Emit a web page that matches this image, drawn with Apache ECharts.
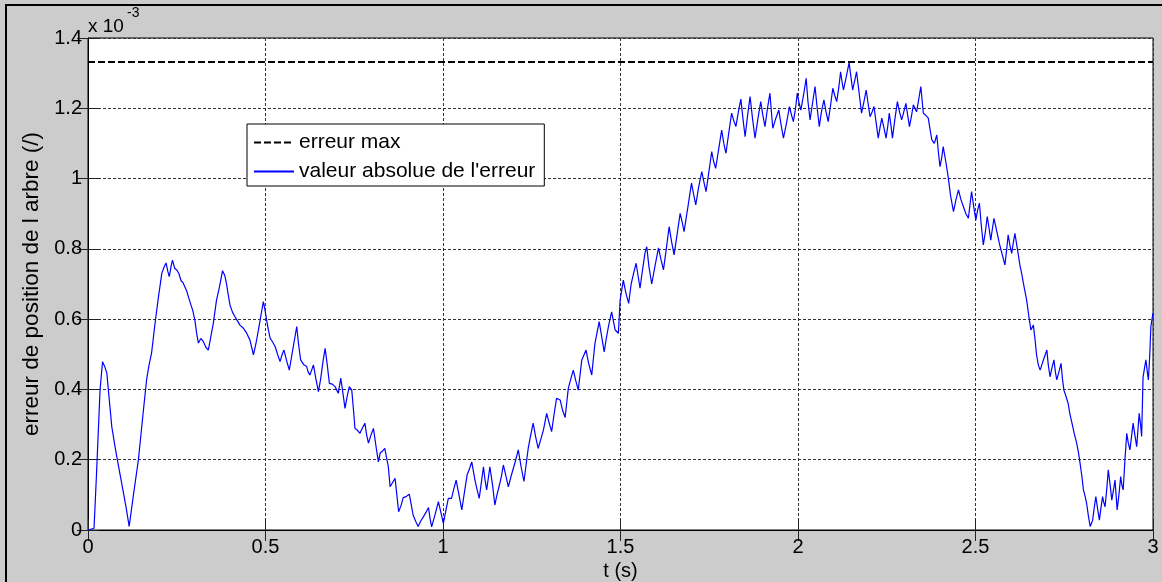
<!DOCTYPE html>
<html>
<head>
<meta charset="utf-8">
<script src="https://cdn.jsdelivr.net/npm/echarts@6/dist/echarts.min.js"></script>
<style>
html,body{margin:0;padding:0;background:#cccccc;overflow:hidden;}
#chart{width:1162px;height:582px;}
</style>
</head>
<body>
<div id="chart"></div>
<script>
// time (s)
const tValues = [0,0.017,0.024,0.034,0.041,0.047,0.053,0.06,0.067,0.074,0.081,0.09,0.1,0.108,0.116,0.128,0.142,0.155,0.165,0.172,0.179,0.189,0.198,0.208,0.215,0.22,0.225,0.229,0.234,0.238,0.244,0.25,0.256,0.262,0.268,0.278,0.287,0.295,0.301,0.306,0.311,0.318,0.325,0.332,0.339,0.346,0.353,0.362,0.37,0.379,0.385,0.39,0.395,0.4,0.407,0.414,0.421,0.428,0.437,0.447,0.456,0.461,0.466,0.473,0.48,0.487,0.494,0.498,0.503,0.508,0.513,0.52,0.527,0.534,0.541,0.547,0.552,0.56,0.567,0.578,0.588,0.593,0.599,0.608,0.616,0.62,0.625,0.63,0.635,0.642,0.649,0.655,0.662,0.668,0.674,0.68,0.688,0.696,0.705,0.712,0.718,0.724,0.73,0.736,0.743,0.748,0.752,0.758,0.766,0.773,0.78,0.785,0.79,0.797,0.804,0.811,0.818,0.823,0.83,0.836,0.841,0.846,0.851,0.858,0.865,0.87,0.875,0.882,0.888,0.896,0.905,0.91,0.916,0.923,0.93,0.937,0.945,0.952,0.959,0.964,0.968,0.978,0.987,0.994,1.001,1.008,1.015,1.024,1.03,1.037,1.045,1.053,1.06,1.068,1.075,1.081,1.09,1.096,1.102,1.108,1.114,1.118,1.123,1.128,1.132,1.14,1.146,1.152,1.159,1.165,1.17,1.177,1.184,1.191,1.198,1.205,1.212,1.22,1.228,1.234,1.24,1.247,1.254,1.261,1.268,1.276,1.283,1.292,1.299,1.306,1.313,1.32,1.33,1.337,1.344,1.353,1.36,1.367,1.374,1.381,1.391,1.403,1.41,1.419,1.428,1.44,1.447,1.454,1.46,1.466,1.475,1.485,1.494,1.499,1.508,1.515,1.523,1.53,1.537,1.544,1.55,1.555,1.562,1.569,1.574,1.58,1.588,1.597,1.607,1.614,1.621,1.629,1.637,1.644,1.651,1.66,1.668,1.674,1.679,1.69,1.7,1.706,1.712,1.72,1.729,1.735,1.741,1.749,1.757,1.762,1.768,1.776,1.785,1.791,1.797,1.805,1.813,1.819,1.825,1.832,1.839,1.845,1.851,1.858,1.865,1.872,1.879,1.887,1.895,1.901,1.907,1.914,1.921,1.925,1.929,1.937,1.946,1.952,1.959,1.968,1.976,1.982,1.987,1.993,1.998,2.003,2.008,2.016,2.023,2.028,2.034,2.041,2.048,2.054,2.06,2.066,2.073,2.079,2.085,2.092,2.098,2.104,2.109,2.115,2.12,2.124,2.128,2.136,2.144,2.149,2.154,2.16,2.165,2.172,2.179,2.186,2.192,2.198,2.203,2.209,2.214,2.22,2.226,2.231,2.236,2.242,2.248,2.253,2.257,2.262,2.266,2.273,2.28,2.286,2.292,2.298,2.304,2.309,2.314,2.32,2.325,2.334,2.34,2.346,2.353,2.36,2.367,2.372,2.377,2.384,2.391,2.396,2.4,2.405,2.409,2.416,2.423,2.43,2.438,2.445,2.452,2.459,2.466,2.473,2.48,2.485,2.489,2.495,2.501,2.506,2.511,2.516,2.522,2.528,2.533,2.538,2.543,2.548,2.552,2.56,2.567,2.575,2.583,2.588,2.592,2.597,2.602,2.606,2.611,2.618,2.625,2.63,2.635,2.644,2.65,2.656,2.663,2.668,2.672,2.677,2.682,2.69,2.701,2.705,2.71,2.715,2.721,2.725,2.729,2.735,2.741,2.745,2.749,2.755,2.761,2.766,2.771,2.778,2.785,2.79,2.794,2.8,2.804,2.809,2.813,2.818,2.823,2.83,2.834,2.839,2.844,2.849,2.853,2.858,2.861,2.865,2.87,2.874,2.879,2.884,2.888,2.893,2.896,2.899,2.904,2.909,2.912,2.916,2.921,2.926,2.93,2.935,2.94,2.944,2.949,2.954,2.958,2.961,2.965,2.968,2.972,2.976,2.98,2.984,2.987,2.991,2.994,3.0];
// |error| in units of 1e-3
const errValues = [0,0.005,0.16,0.40,0.479,0.465,0.447,0.37,0.294,0.25,0.209,0.16,0.105,0.06,0.01,0.1,0.2,0.33,0.427,0.47,0.503,0.589,0.66,0.731,0.75,0.76,0.735,0.721,0.75,0.768,0.745,0.74,0.73,0.71,0.703,0.68,0.65,0.625,0.598,0.56,0.532,0.545,0.536,0.52,0.512,0.55,0.588,0.654,0.69,0.738,0.725,0.702,0.67,0.64,0.62,0.607,0.595,0.583,0.575,0.56,0.541,0.52,0.498,0.53,0.569,0.61,0.65,0.63,0.598,0.57,0.546,0.535,0.522,0.5,0.479,0.5,0.512,0.48,0.455,0.52,0.579,0.53,0.484,0.47,0.465,0.45,0.441,0.455,0.47,0.43,0.394,0.427,0.48,0.517,0.47,0.417,0.415,0.408,0.389,0.432,0.39,0.346,0.38,0.408,0.398,0.34,0.289,0.285,0.275,0.29,0.304,0.27,0.247,0.27,0.289,0.24,0.194,0.219,0.225,0.232,0.232,0.18,0.123,0.135,0.147,0.1,0.052,0.07,0.092,0.095,0.102,0.075,0.042,0.025,0.01,0.025,0.038,0.05,0.064,0.03,0.009,0.045,0.081,0.05,0.019,0.055,0.09,0.09,0.115,0.142,0.1,0.057,0.105,0.157,0.175,0.194,0.142,0.115,0.09,0.135,0.18,0.145,0.114,0.15,0.18,0.125,0.071,0.1,0.128,0.155,0.185,0.155,0.123,0.15,0.175,0.2,0.228,0.18,0.138,0.185,0.232,0.27,0.304,0.265,0.232,0.26,0.285,0.332,0.305,0.28,0.33,0.375,0.37,0.34,0.32,0.403,0.43,0.455,0.425,0.398,0.484,0.512,0.475,0.441,0.531,0.593,0.55,0.507,0.545,0.579,0.621,0.569,0.56,0.655,0.711,0.675,0.645,0.7,0.731,0.759,0.72,0.688,0.74,0.788,0.806,0.75,0.7,0.75,0.803,0.77,0.74,0.8,0.863,0.82,0.783,0.845,0.901,0.875,0.849,0.92,0.987,0.955,0.925,0.975,1.02,0.99,0.963,1.02,1.077,1.05,1.029,1.08,1.138,1.1,1.072,1.13,1.186,1.165,1.148,1.19,1.226,1.17,1.119,1.18,1.233,1.17,1.115,1.17,1.219,1.18,1.148,1.2,1.243,1.19,1.143,1.17,1.195,1.155,1.115,1.16,1.205,1.18,1.162,1.2,1.243,1.215,1.195,1.24,1.285,1.22,1.167,1.215,1.262,1.2,1.148,1.19,1.224,1.19,1.162,1.21,1.257,1.235,1.219,1.26,1.304,1.275,1.252,1.29,1.33,1.29,1.252,1.28,1.304,1.245,1.186,1.22,1.252,1.21,1.176,1.19,1.205,1.16,1.115,1.145,1.172,1.145,1.115,1.15,1.186,1.15,1.115,1.17,1.219,1.19,1.167,1.19,1.214,1.18,1.148,1.18,1.21,1.19,1.225,1.262,1.186,1.18,1.172,1.14,1.11,1.1,1.124,1.07,1.034,1.06,1.091,1.05,1.005,0.95,0.906,0.94,0.968,0.94,0.92,0.9,0.887,0.93,0.963,0.92,0.882,0.91,0.93,0.87,0.811,0.85,0.892,0.86,0.825,0.86,0.887,0.85,0.816,0.785,0.754,0.8,0.84,0.81,0.787,0.815,0.844,0.8,0.754,0.73,0.702,0.655,0.61,0.569,0.583,0.54,0.498,0.47,0.455,0.48,0.512,0.47,0.436,0.46,0.484,0.45,0.427,0.45,0.474,0.43,0.398,0.38,0.36,0.33,0.308,0.275,0.247,0.22,0.194,0.15,0.114,0.095,0.076,0.04,0.01,0.028,0.06,0.095,0.06,0.028,0.06,0.095,0.08,0.066,0.12,0.171,0.13,0.085,0.11,0.142,0.1,0.057,0.1,0.152,0.13,0.114,0.2,0.275,0.25,0.228,0.27,0.304,0.27,0.237,0.29,0.332,0.3,0.266,0.436,0.46,0.484,0.45,0.427,0.5,0.579,0.617];
// max error (units of 1e-3)
const maxErrT = [0, 3];
const maxErrV = [1.332, 1.332];
const seriesNames = ['erreur max', "valeur absolue de l'erreur"];
const xTickLabels = ['0','0.5','1','1.5','2','2.5','3'];
const yTickLabels = ['0','0.2','0.4','0.6','0.8','1','1.2','1.4'];
const xName = 't (s)';
const yName = 'erreur de position de l arbre (/)';
const exponentBase = 'x 10';
const exponentPow = '-3';

const FONT = '"Liberation Sans", Arial, sans-serif';
const chart = echarts.init(document.getElementById('chart'), null, {width: 1162, height: 582});
const gridLine = {show: true, lineStyle: {color: '#333', type: [3, 2], width: 1}};
const tickStyle = {show: true, inside: true, length: 11, lineStyle: {color: '#222', width: 1}};

const option = {
  animation: false,
  backgroundColor: '#cccccc',
  textStyle: {fontFamily: FONT},
  grid: {left: 88, right: 9, top: 38, bottom: 52, show: true, containLabel: false, outerBoundsMode: 'none',
    backgroundColor: '#ffffff', borderColor: '#000', borderWidth: 1},
  legend: {
    left: 247, top: 124, orient: 'vertical',
    backgroundColor: '#fff', borderColor: '#000', borderWidth: 1,
    padding: [8, 9, 4, 6], itemGap: 8, itemWidth: 40, itemHeight: 16,
    itemStyle: {opacity: 0},
    textStyle: {fontSize: 21, color: '#000', fontFamily: FONT},
    data: seriesNames
  },
  xAxis: [{
    type: 'value', min: 0, max: 3, interval: 0.5, position: 'bottom',
    name: xName, nameLocation: 'middle', nameGap: 30,
    nameTextStyle: {fontSize: 20, color: '#000', fontFamily: FONT},
    axisLine: {show: true, onZero: false, lineStyle: {color: '#000', width: 1}},
    axisTick: tickStyle,
    axisLabel: {fontSize: 20, color: '#000', margin: 7, fontFamily: FONT,
      formatter: (v) => xTickLabels[Math.round(v / 0.5)] },
    splitLine: gridLine
  }, {
    type: 'value', min: 0, max: 3, interval: 0.5, position: 'top',
    axisLine: {show: false}, axisTick: tickStyle, axisLabel: {show: false}, splitLine: {show: false}
  }],
  yAxis: [{
    type: 'value', min: 0, max: 1.4, interval: 0.2, position: 'left',
    name: yName, nameLocation: 'middle', nameGap: 34,
    nameTextStyle: {fontSize: 22.5, color: '#000', fontFamily: FONT},
    axisLine: {show: true, onZero: false, lineStyle: {color: '#000', width: 1}},
    axisTick: tickStyle,
    axisLabel: {fontSize: 20, color: '#000', margin: 6, fontFamily: FONT,
      formatter: (v) => yTickLabels[Math.round(v / 0.2)] },
    splitLine: gridLine
  }, {
    type: 'value', min: 0, max: 1.4, interval: 0.2, position: 'right',
    axisLine: {show: false}, axisTick: tickStyle, axisLabel: {show: false}, splitLine: {show: false}
  }],
  series: [{
    name: seriesNames[0], type: 'line', symbol: 'none',
    data: maxErrT.map((t, i) => [t, maxErrV[i]]),
    lineStyle: {color: '#000', width: 2, type: [7, 3]},
    itemStyle: {color: '#000'}, z: 3
  }, {
    name: seriesNames[1], type: 'line', symbol: 'none',
    data: tValues.map((t, i) => [t, errValues[i]]),
    lineStyle: {color: '#0000ff', width: 1.2},
    itemStyle: {color: '#0000ff'}, z: 2
  }],
  graphic: [
    {type: 'rect', shape: {x: 6, y: 5, width: 1400, height: 1400}, style: {fill: 'none', stroke: '#000', lineWidth: 2}, silent: true, z: 100},
    {type: 'text', x: 88, y: 17, style: {text: exponentBase, fontSize: 19, fill: '#000', fontFamily: FONT}},
    {type: 'text', x: 127, y: 6, style: {text: exponentPow, fontSize: 14, fill: '#000', fontFamily: FONT}}
  ]
};
chart.setOption(option);
</script>
</body>
</html>
